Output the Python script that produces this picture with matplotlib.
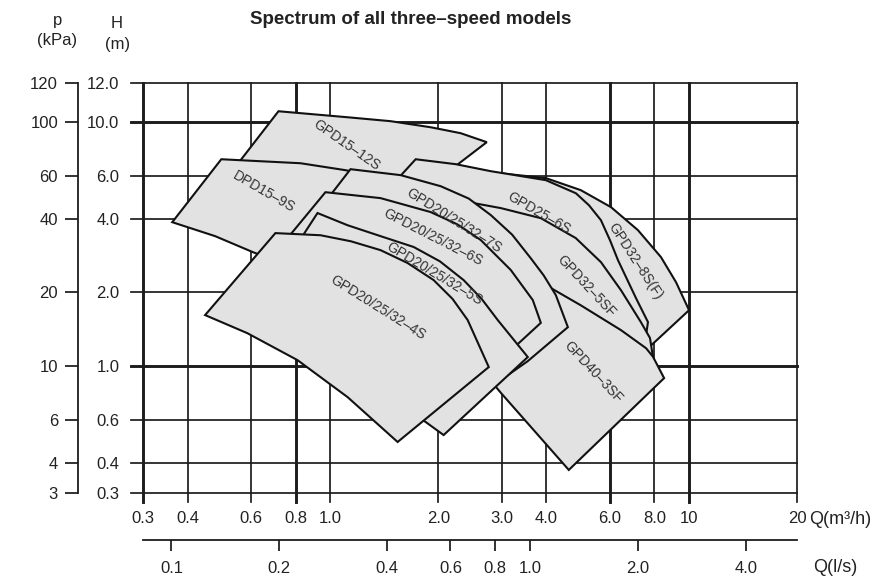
import matplotlib.pyplot as plt
from matplotlib.ticker import NullLocator

plt.rcParams['font.family'] = ['Liberation Sans', 'DejaVu Sans']

# flow axis in m3/h, and the l/s scale printed under it
q_ticks = [0.3, 0.4, 0.6, 0.8, 1.0, 2.0, 3.0, 4.0, 6.0, 8.0, 10.0, 20.0]
q_labels = ['0.3', '0.4', '0.6', '0.8', '1.0', '2.0', '3.0', '4.0', '6.0', '8.0', '10', '20']
ls_ticks = [0.1, 0.2, 0.4, 0.6, 0.8, 1.0, 2.0, 4.0]
ls_labels = ['0.1', '0.2', '0.4', '0.6', '0.8', '1.0', '2.0', '4.0']

# head axis in m (the top line is printed "12.0" but sits above a true log 12)
h_ticks = [0.3, 0.4, 0.6, 1.0, 2.0, 4.0, 6.0, 10.0, 14.4]
h_labels = ['0.3', '0.4', '0.6', '1.0', '2.0', '4.0', '6.0', '10.0', '12.0']
p_labels = ['3', '4', '6', '10', '20', '40', '60', '100', '120']

# model outlines: Q (m3/h), H (m), back to front
gpd15_12s_q = [0.716, 1.116, 1.471, 1.902, 2.307, 2.728, 2.25, 2.029, 1.569, 1.0, 0.553]
gpd15_12s_h = [11.06, 10.45, 10.07, 9.51, 8.99, 8.26, 6.65, 5.50, 5.77, 6.22, 6.77]

gpd32_8sf_q = [2.80, 3.99, 4.99, 6.06, 7.20, 8.35, 9.20, 10.0, 7.73, 6.80, 5.68, 4.39, 2.99]
gpd32_8sf_h = [6.22, 5.88, 5.25, 4.47, 3.60, 2.79, 2.20, 1.69, 1.19, 1.86, 2.98, 4.35, 5.50]

gpd25_6s_q = [1.728, 2.235, 2.799, 3.986, 4.834, 5.256, 5.678, 6.017, 6.336, 7.112, 7.68, 7.54,
              6.668, 5.789, 4.928, 3.86, 2.927, 2.235, 1.424]
gpd25_6s_h = [7.03, 6.71, 6.28, 5.77, 5.10, 4.556, 3.955, 3.275, 2.71, 1.894, 1.511, 1.25,
              1.86, 2.47, 3.10, 3.81, 4.19, 4.56, 5.15]

gpd32_5sf_q = [2.03, 2.26, 2.99, 3.86, 4.83, 5.68, 6.46, 7.34, 7.78, 7.93, 8.04, 6.46, 4.99, 3.99, 3.18]
gpd32_5sf_h = [4.96, 4.78, 4.43, 4.03, 3.34, 2.66, 2.04, 1.51, 1.30, 1.09, 1.007, 1.25, 1.57, 1.86, 2.04]

gpd40_3sf_q = [3.29, 3.99, 4.99, 6.46, 7.59, 7.93, 8.52, 4.62, 2.99, 2.76]
gpd40_3sf_h = [2.59, 2.14, 1.77, 1.40, 1.18, 1.09, 0.89, 0.374, 0.773, 0.89]

dpd15_9s_q = [0.496, 0.637, 0.825, 1.101, 1.175, 1.033, 0.825, 0.609, 0.477, 0.362]
dpd15_9s_h = [7.03, 6.90, 6.77, 6.34, 6.22, 4.78, 2.47, 2.92, 3.40, 3.88]

gpd_7s_q = [1.137, 1.569, 2.029, 2.43, 2.799, 3.21, 3.619, 3.93, 4.25, 4.592, 3.55, 2.985,
            2.029, 1.379, 0.825, 1.0]
gpd_7s_h = [6.40, 6.05, 5.45, 4.85, 4.15, 3.45, 2.76, 2.35, 1.95, 1.44, 1.045, 0.874,
            1.40, 2.14, 3.125, 5.01]

gpd_6s_q = [0.968, 1.379, 1.902, 2.26, 2.624, 3.183, 3.666, 3.86, 3.082, 2.029, 1.379, 0.749, 0.783]
gpd_6s_h = [5.15, 4.87, 4.27, 3.80, 3.28, 2.47, 1.86, 1.50, 1.106, 1.69, 2.35, 3.28, 3.53]

gpd_5s_q = [0.920, 1.116, 1.38, 1.706, 2.02, 2.352, 2.64, 2.927, 3.55, 2.068, 1.843, 1.569,
            1.066, 0.773, 0.846]
gpd_5s_h = [4.23, 3.77, 3.40, 3.07, 2.68, 2.245, 1.88, 1.54, 1.086, 0.520, 0.588, 0.690,
            0.960, 2.84, 3.50]

gpd_4s_q = [0.702, 0.938, 1.14, 1.379, 1.64, 1.940, 2.19, 2.413, 2.763, 1.539, 1.116, 0.809,
            0.586, 0.447]
gpd_4s_h = [3.50, 3.43, 3.24, 2.98, 2.64, 2.245, 1.88, 1.54, 0.988, 0.487, 0.744, 1.055,
            1.361, 1.614]

outlines = [
    (gpd15_12s_q, gpd15_12s_h),
    (gpd32_8sf_q, gpd32_8sf_h),
    (gpd25_6s_q, gpd25_6s_h),
    (gpd32_5sf_q, gpd32_5sf_h),
    (gpd40_3sf_q, gpd40_3sf_h),
    (dpd15_9s_q, dpd15_9s_h),
    (gpd_7s_q, gpd_7s_h),
    (gpd_6s_q, gpd_6s_h),
    (gpd_5s_q, gpd_5s_h),
    (gpd_4s_q, gpd_4s_h),
]

# label text, position (Q, H) and angle
model_names = ['GPD15–12S', 'DPD15–9S', 'GPD20/25/32–7S', 'GPD20/25/32–6S', 'GPD20/25/32–5S',
               'GPD20/25/32–4S', 'GPD25–6S', 'GPD32–8S(F)', 'GPD32–5SF', 'GPD40–3SF']
name_q = [1.106, 0.651, 2.21, 1.928, 1.952, 1.355, 3.818, 7.066, 5.156, 5.393]
name_h = [8.03, 5.17, 3.95, 3.37, 2.375, 1.735, 4.21, 2.693, 2.128, 0.942]
name_rot = [-35, -30, -32, -27, -31, -32, -30, -57, -47, -47]

fig = plt.figure(figsize=(8.87, 5.81), dpi=100)
ax = fig.add_axes([143 / 887, 1 - 493.3 / 581, 654 / 887, 410 / 581])
ax.set_xscale('log')
ax.set_yscale('log')
ax.set_xlim(0.3, 20)
ax.set_ylim(0.3, 14.4)

line_col = '#1c1c1c'
thick_q = [0.3, 0.8, 6.0, 10.0]
thick_h = [1.0, 10.0]

for q in q_ticks:
    lw = 2.1 if q in thick_q else 1.25
    ax.axvline(q, ymin=-9 / 410, ymax=1, color=line_col, lw=lw, clip_on=False, zorder=1)
for h in h_ticks:
    lw = 2.1 if h in thick_h else 1.25
    ax.axhline(h, xmin=-12 / 654, xmax=1, color=line_col, lw=lw, clip_on=False, zorder=1)
for s in ax.spines.values():
    s.set_visible(False)

for i, (qs, hs) in enumerate(outlines):
    ax.fill(qs, hs, facecolor='#e2e2e2', edgecolor='#111111', lw=1.5, zorder=3 + i)

for name, q, h, r in zip(model_names, name_q, name_h, name_rot):
    ax.text(q, h, name, rotation=r, rotation_mode='anchor', ha='center', va='center',
            fontsize=10, color='#333333', zorder=20)

ax.set_xticks(q_ticks, labels=q_labels)
ax.set_yticks(h_ticks, labels=h_labels)
ax.xaxis.set_minor_locator(NullLocator())
ax.yaxis.set_minor_locator(NullLocator())
ax.tick_params(axis='x', length=0, pad=13, labelsize=12, colors='#222222')
ax.tick_params(axis='y', length=0, pad=17, labelsize=12, colors='#222222')

# l/s scale
sec_x = ax.secondary_xaxis(-0.114, functions=(lambda q: q / 3.6, lambda s: s * 3.6))
sec_x.set_xticks(ls_ticks, labels=ls_labels)
sec_x.xaxis.set_minor_locator(NullLocator())
sec_x.tick_params(length=8, width=1.3, pad=7, labelsize=12, colors='#222222')
sec_x.spines['bottom'].set_linewidth(1.3)
sec_x.spines['bottom'].set_color(line_col)

# kPa scale
sec_y = ax.secondary_yaxis(-65 / 654, functions=(lambda h: h * 10, lambda p: p / 10))
sec_y.set_yticks([h * 10 for h in h_ticks], labels=p_labels)
sec_y.yaxis.set_minor_locator(NullLocator())
sec_y.tick_params(length=9.4, width=1.3, pad=5, labelsize=12, colors='#222222')
sec_y.spines['left'].set_linewidth(1.3)
sec_y.spines['left'].set_color(line_col)

fig.text(411 / 887, 1 - 19 / 581, 'Spectrum of all three–speed models', ha='center', va='center',
         fontsize=13.5, weight='bold', color='#222222')
fig.text(58 / 887, 1 - 20 / 581, 'p', ha='center', va='center', fontsize=12, color='#222222')
fig.text(57.5 / 887, 1 - 41 / 581, '(kPa)', ha='center', va='center', fontsize=12, color='#222222')
fig.text(117 / 887, 1 - 23 / 581, 'H', ha='center', va='center', fontsize=12, color='#222222')
fig.text(118 / 887, 1 - 45 / 581, '(m)', ha='center', va='center', fontsize=12, color='#222222')
fig.text(809 / 887, 1 - 519 / 581, 'Q(m³/h)', ha='left', va='center', fontsize=13, color='#222222')
fig.text(813 / 887, 1 - 568 / 581, 'Q(l/s)', ha='left', va='center', fontsize=13, color='#222222')

fig.savefig('out.png', dpi=100)
